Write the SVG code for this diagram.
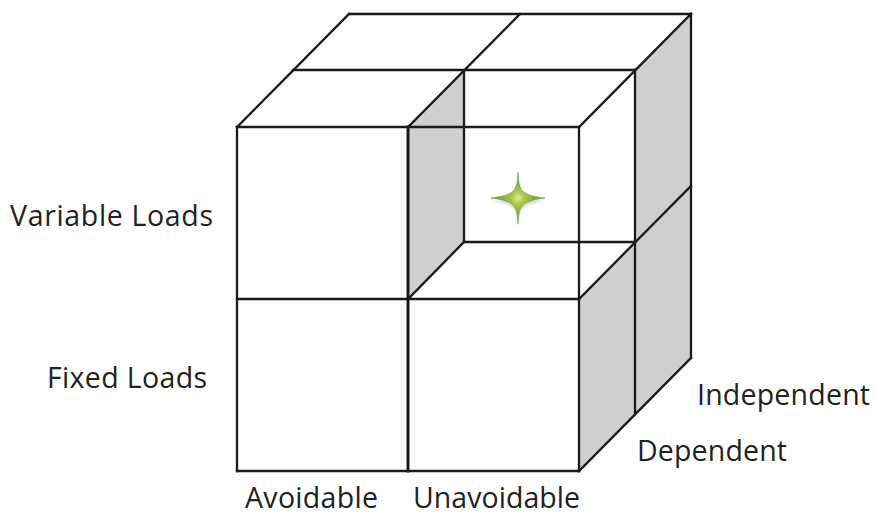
<svg xmlns="http://www.w3.org/2000/svg" width="876" height="515" viewBox="0 0 876 515">
  <style>
    .face { fill: #cfcfcf; stroke: none; }
    .edge { stroke: #1a1a1a; stroke-width: 2.3; fill: none; stroke-linecap: square; }
    .thick { stroke-width: 3; }
    .lbl { font-family: "Open Sans", "Liberation Sans", sans-serif; font-size: 28.5px; fill: #222; }
  </style>
  <defs>
    <radialGradient id="starGrad" cx="0.5" cy="0.5" r="0.5">
      <stop offset="0" stop-color="#e0f09a"/>
      <stop offset="0.25" stop-color="#a8c848"/>
      <stop offset="1" stop-color="#6b8c22"/>
    </radialGradient>
    <filter id="blur" x="-50%" y="-50%" width="200%" height="200%">
      <feGaussianBlur stdDeviation="1.8"/>
    </filter>
  </defs>

  <g id="faces">
    <polygon class="face" points="408,127 464,70 464,242 408,299"/>
    <polygon class="face" points="635,70 691,14 691,186 635,242"/>
    <polygon class="face" points="579,299 635,242 635,414 579,471"/>
    <polygon class="face" points="635,242 691,186 691,358 635,414"/>
  </g>

  <g id="edges">
    <line class="edge" x1="237" y1="127" x2="237" y2="471"/>
    <line class="edge" x1="237" y1="471" x2="579" y2="471"/>
    <line class="edge" x1="579" y1="127" x2="579" y2="471"/>
    <line class="edge" x1="237" y1="127" x2="579" y2="127"/>
    <line class="edge thick" x1="408" y1="127" x2="408" y2="471"/>
    <line class="edge" x1="237" y1="299" x2="579" y2="299"/>
    <line class="edge" x1="237" y1="127" x2="349" y2="14"/>
    <line class="edge" x1="349" y1="14" x2="691" y2="14"/>
    <line class="edge" x1="408" y1="127" x2="520" y2="14"/>
    <line class="edge" x1="293" y1="70" x2="635" y2="70"/>
    <line class="edge" x1="579" y1="127" x2="691" y2="14"/>
    <line class="edge" x1="691" y1="14" x2="691" y2="358"/>
    <line class="edge" x1="579" y1="471" x2="691" y2="358"/>
    <line class="edge" x1="635" y1="70" x2="635" y2="414"/>
    <line class="edge" x1="579" y1="299" x2="691" y2="186"/>
    <line class="edge" x1="464" y1="70" x2="464" y2="242"/>
    <line class="edge" x1="464" y1="242" x2="635" y2="242"/>
    <line class="edge" x1="408" y1="299" x2="464" y2="242"/>
  </g>

  <g id="star">
    <path d="M518,176 C519,194 520,199 546,201 C520,203 519,208 518,228 C517,208 516,203 491,201 C516,199 517,194 518,176 Z" fill="#777" opacity="0.4" filter="url(#blur)"/>
    <path d="M518,172 C519,190 520,195 545,198 C520,201 519,206 518,224 C517,206 516,201 491,198 C516,195 517,190 518,172 Z" fill="url(#starGrad)" stroke="#6b8c22" stroke-width="0.5"/>
  </g>

  <g id="labels">
    <text class="lbl" x="10" y="226" textLength="203">Variable Loads</text>
    <text class="lbl" x="47" y="388" textLength="160">Fixed Loads</text>
    <text class="lbl" x="697" y="405" textLength="173">Independent</text>
    <text class="lbl" x="637" y="461" textLength="150">Dependent</text>
    <text class="lbl" x="245" y="508" textLength="133">Avoidable</text>
    <text class="lbl" x="413" y="508" textLength="167">Unavoidable</text>
  </g>
</svg>
